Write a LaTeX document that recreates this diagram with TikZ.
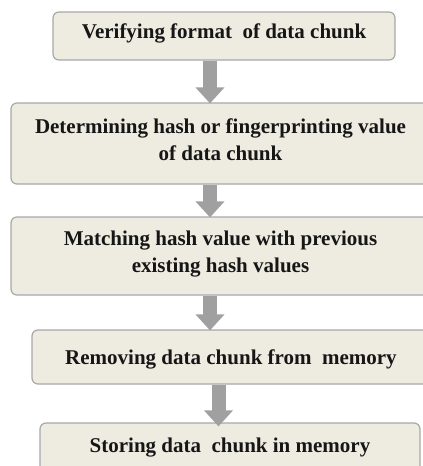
\documentclass[tikz,border=0pt]{standalone}
\usepackage{fontspec}
\setmainfont{Liberation Serif}
\usetikzlibrary{arrows.meta}
\definecolor{boxfill}{HTML}{EEECE1}
\definecolor{boxline}{HTML}{A8A8A8}
\definecolor{arrowgray}{HTML}{A0A0A0}
\definecolor{inkblack}{HTML}{161616}
\begin{document}
\begin{tikzpicture}[x=1pt,y=1pt,
  stepbox/.style={draw=boxline, line width=1.2pt, fill=boxfill,
    rounded corners=6pt, inner sep=0pt, align=center,
    text=inkblack, font=\bfseries\fontsize{21}{27}\selectfont},
  flowarrow/.style={draw=arrowgray, line width=14pt,
    -{Triangle[width=28pt,length=16pt]}}]
  \useasboundingbox (0,0) rectangle (423,-466);
  % process steps, top to bottom (text depth nudges the labels vertically)
  \node[stepbox, minimum width=342pt, minimum height=48pt, text depth=10.6pt]
    (b1) at (224,-36) {Verifying format\ \ of data chunk};
  \node[stepbox, minimum width=419pt, minimum height=81pt, text depth=7pt]
    (b2) at (220.5,-143.5) {Determining hash or fingerprinting value\\ of data chunk};
  \node[stepbox, minimum width=419pt, minimum height=78pt, text depth=8.6pt]
    (b3) at (220.5,-256) {Matching hash value with previous\\ existing hash values};
  \node[stepbox, minimum width=398pt, minimum height=54pt, text depth=0pt]
    (b4) at (231,-357) {Removing data chunk from\ \ memory};
  \node[stepbox, minimum width=380pt, minimum height=55pt, text depth=11pt]
    (b5) at (230,-450.5) {Storing data\ \ chunk in memory};
  % arrows between consecutive steps
  \coordinate (c1) at (210,0);
  \coordinate (c4) at (218.5,0);
  \draw[flowarrow] (b1.south -| c1) -- ([yshift=-1pt]b2.north -| c1);
  \draw[flowarrow] (b2.south -| c1) -- ([yshift=-1pt]b3.north -| c1);
  \draw[flowarrow] (b3.south -| c1) -- ([yshift=-1pt]b4.north -| c1);
  \draw[flowarrow] (b4.south -| c4) -- ([yshift=-4pt]b5.north -| c4);
\end{tikzpicture}
\end{document}
